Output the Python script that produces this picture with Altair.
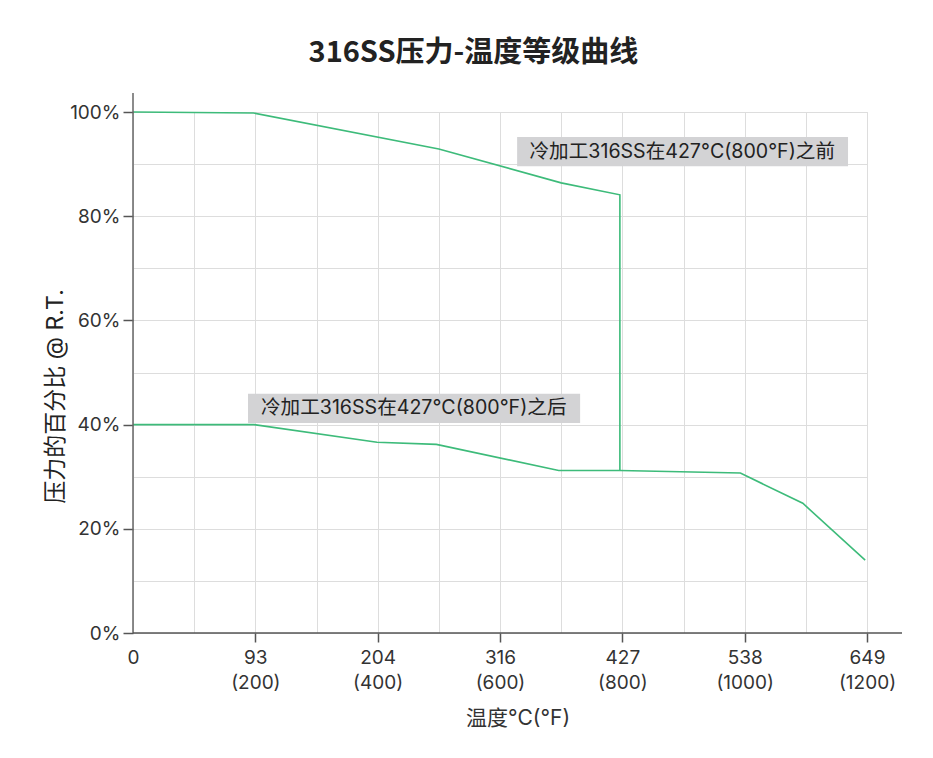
import altair as alt
import pandas as pd

# ---- data ----
upper_f = [0, 197, 500, 700, 796, 796]
upper_pct = [1.0, 0.998, 0.929, 0.864, 0.841, 0.312]
lower_f = [0, 198, 399, 496, 696, 796, 993, 1095, 1197]
lower_pct = [0.40, 0.40, 0.366, 0.362, 0.312, 0.312, 0.307, 0.249, 0.140]

tick_f = [0, 200, 400, 600, 800, 1000, 1200]
tick_c = ["0", "93", "204", "316", "427", "538", "649"]
tick_f_lab = ["", "(200)", "(400)", "(600)", "(800)", "(1000)", "(1200)"]

notes = ["冷加工316SS在427°C(800°F)之前", "冷加工316SS在427°C(800°F)之后"]
note_x = [898, 459]
note_y = [0.924, 0.431]
note_x0 = [628, 188]
note_x1 = [1169, 731]
note_y0 = [0.896, 0.403]
note_y1 = [0.952, 0.459]

FONT = "Inter, Noto Sans CJK SC"
TFONT = "Noto Sans CJK SC"
GREEN = "#3dbb7a"
W, H = 734, 521

rows = []
for i, (f, p) in enumerate(zip(upper_f, upper_pct)):
    rows.append({"series": "before", "order": i, "f": f, "pct": p})
for i, (f, p) in enumerate(zip(lower_f, lower_pct)):
    rows.append({"series": "after", "order": i, "f": f, "pct": p})
df = pd.DataFrame(rows)

notes_df = pd.DataFrame({
    "text": notes, "x": note_x, "y": note_y,
    "x0": note_x0, "x1": note_x1, "y0": note_y0, "y1": note_y1,
})

# label expression for the x axis built from tick lists
expr = "''"
for f, c, fl in reversed(list(zip(tick_f, tick_c, tick_f_lab))):
    lab = f"['{c}']" if fl == "" else f"['{c}', '{fl}']"
    expr = f"datum.value == {f} ? {lab} : ({expr})"

xscale = alt.Scale(domain=[0, 1200], nice=False, zero=False)
yscale = alt.Scale(domain=[0, 1], nice=False)

x_axis = alt.Axis(
    values=list(range(0, 1201, 100)),
    labelExpr=expr,
    domain=False,
    grid=True,
    gridColor="#dddddd",
    gridWidth=1,
    tickSize=9,
    tickColor="#555555",
    tickWidth=1.5,
    tickOpacity={"condition": {"test": "datum.value % 200 == 0 && datum.value > 0", "value": 1}, "value": 0},
    labelFont=FONT,
    labelFontSize=19,
    labelColor="#333333",
    labelPadding=6,
    labelLineHeight=25,
    labelBaseline="top",
    labelFlush=False,
    title="温度°C(°F)",
    titleFont=FONT,
    titleFontSize=21,
    titleFontWeight="normal",
    titleColor="#333333",
    titleX=384.5,
    titleY=85,
    titleBaseline="middle",
)

y_axis = alt.Axis(
    values=[i / 10 for i in range(0, 11)],
    labelExpr="round(datum.value * 100) % 20 == 0 ? format(datum.value, '.0%') : ''",
    domain=False,
    grid=True,
    gridColor="#dddddd",
    gridWidth=1,
    tickSize=10,
    tickColor="#555555",
    tickWidth=1.5,
    tickOpacity={"condition": {"test": "round(datum.value * 100) % 20 == 0", "value": 1}, "value": 0},
    labelFont=FONT,
    labelFontSize=19,
    labelColor="#333333",
    labelPadding=3,
    labelFlush=False,
    title="压力的百分比 @ R.T.",
    titleFont=FONT,
    titleFontSize=23,
    titleFontWeight="normal",
    titleColor="#222222",
    titleX=-78,
    titleY=284,
    titleAngle=-90,
    titleAlign="center",
    titleBaseline="middle",
)

lines = alt.Chart(df).mark_line(color=GREEN, strokeWidth=1.6).encode(
    x=alt.X("f:Q", scale=xscale, axis=x_axis),
    y=alt.Y("pct:Q", scale=yscale, axis=y_axis),
    detail="series:N",
    order="order:Q",
)

boxes = alt.Chart(notes_df).mark_rect(color="#d3d3d5").encode(
    x=alt.X("x0:Q", scale=xscale, axis=x_axis),
    x2="x1:Q",
    y=alt.Y("y0:Q", scale=yscale, axis=y_axis),
    y2="y1:Q",
)

labels = alt.Chart(notes_df).mark_text(
    font=FONT, fontSize=19.6, color="#222222", align="center", baseline="middle"
).encode(
    x=alt.X("x:Q", scale=xscale, axis=x_axis),
    y=alt.Y("y:Q", scale=yscale, axis=y_axis),
    text="text:N",
)

# axis lines (extend slightly beyond the grid like the reference)
y_line = alt.Chart(pd.DataFrame({"a": [0]})).mark_rule(color="#666666", strokeWidth=1.5).encode(
    x=alt.value(0), y=alt.value(-19), y2=alt.value(H)
)
x_line = alt.Chart(pd.DataFrame({"a": [0]})).mark_rule(color="#555555", strokeWidth=1.5).encode(
    x=alt.value(0), x2=alt.value(769), y=alt.value(H)
)

chart = alt.layer(lines, boxes, labels, y_line, x_line).properties(
    width=W,
    height=H,
    autosize=alt.AutoSizeParams(type="none"),
    padding={"left": 125, "top": 104, "right": 58, "bottom": 110},
    title=alt.TitleParams(
        text="316SS压力-温度等级曲线",
        font=TFONT,
        fontSize=29,
        fontWeight="bold",
        color="#222222",
        anchor="middle",
        frame="bounds",
        offset=24,
    ),
).configure_view(stroke=None).configure(background="white")

chart.save("out.html", embed_options={"renderer": "svg", "actions": False})
